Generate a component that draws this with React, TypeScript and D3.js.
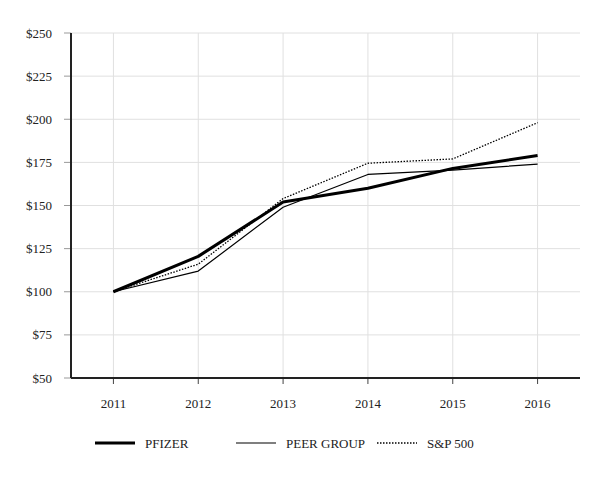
import React from "react";
import * as d3 from "d3";

const years = ["2011", "2012", "2013", "2014", "2015", "2016"];
const pfizer = [100, 120.5, 152, 160, 171.5, 179];
const peerGroup = [100, 112, 149, 168, 170.5, 174];
const sp500 = [100, 116, 154, 174.5, 177, 198];
const yTicks = [50, 75, 100, 125, 150, 175, 200, 225, 250];
const legendLabels = ["PFIZER", "PEER GROUP", "S&P 500"];

const W = 614, H = 480;
const left = 71, right = 580, top = 33, bottom = 378;

export default function App() {
  const x = d3.scalePoint<string>().domain(years).range([left, right]).padding(0.5);
  const y = d3.scaleLinear().domain([50, 250]).range([bottom, top]);
  const line = d3.line<number>().x((_, i) => x(years[i])!).y((d) => y(d));
  const font = "'Liberation Serif', 'Times New Roman', serif";
  const series = [
    { data: pfizer, w: 3, dash: undefined as string | undefined },
    { data: peerGroup, w: 1.2, dash: undefined },
    { data: sp500, w: 1.3, dash: "1.5,1.5" },
  ];
  const legendX = [95, 236, 377];
  return (
    <svg width={W} height={H} style={{ position: "absolute", left: 0, top: 0, background: "#fff" }} fontFamily={font}>
      {yTicks.map((t) => (
        <g key={t}>
          <line x1={left} x2={right} y1={y(t)} y2={y(t)} stroke="#e0e0e0" strokeWidth={1} />
          <line x1={left - 7} x2={left} y1={y(t)} y2={y(t)} stroke="#999" strokeWidth={1} />
          <text x={52} y={y(t)} dy="0.35em" textAnchor="end" fontSize={13} fill="#222">${t}</text>
        </g>
      ))}
      {years.map((yr) => (
        <g key={yr}>
          <line x1={x(yr)} x2={x(yr)} y1={top} y2={bottom} stroke="#e0e0e0" strokeWidth={1} />
          <line x1={x(yr)} x2={x(yr)} y1={bottom} y2={bottom + 6} stroke="#444" strokeWidth={1} />
          <text x={x(yr)} y={403} dy="0.35em" textAnchor="middle" fontSize={13} fill="#222">{yr}</text>
        </g>
      ))}
      <line x1={left} x2={left} y1={top} y2={bottom} stroke="#222" strokeWidth={2} />
      <line x1={left} x2={right} y1={bottom} y2={bottom} stroke="#222" strokeWidth={2} />
      {series.map((s, i) => (
        <path key={i} d={line(s.data)!} fill="none" stroke="#000" strokeWidth={s.w} strokeDasharray={s.dash} strokeLinejoin="round" />
      ))}
      {legendLabels.map((lab, i) => (
        <g key={lab}>
          <line x1={legendX[i]} x2={legendX[i] + 40} y1={443} y2={443} stroke="#000" strokeWidth={series[i].w} strokeDasharray={series[i].dash} />
          <text x={legendX[i] + 50} y={443} dy="0.35em" fontSize={13} fill="#222">{lab}</text>
        </g>
      ))}
    </svg>
  );
}
